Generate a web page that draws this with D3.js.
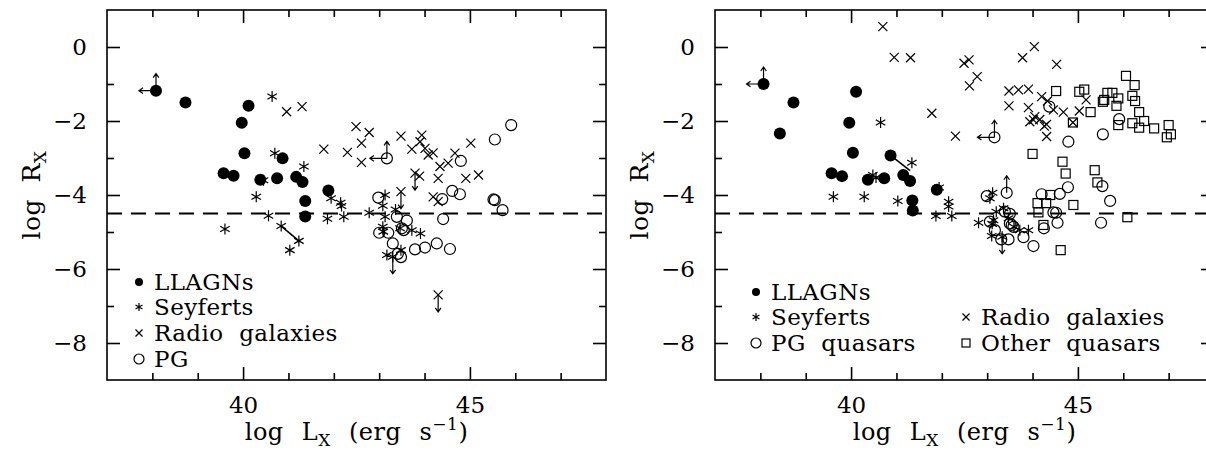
<!DOCTYPE html>
<html>
<head>
<meta charset="utf-8">
<script src="https://cdn.jsdelivr.net/npm/d3@7"></script>
<style>
	body { margin: 0; background: #fff; }
	svg { display: block; font-family: "DejaVu Serif", serif; }
</style>
</head>
<body>
<div id="chart"></div>
<script>

// data: [log Lx, log Rx]
const leftLLAGN = [[38.08,-1.18],[38.73,-1.50],[40.12,-1.59],[39.97,-2.05],[40.03,-2.87],[40.87,-3.01],[39.57,-3.41],[39.79,-3.48],[40.38,-3.59],[40.75,-3.55],[41.17,-3.51],[41.31,-3.65],[41.88,-3.88],[41.37,-4.16],[41.37,-4.58]];
const leftSeyferts = [[40.64,-1.34],[40.70,-2.87],[41.34,-3.23],[40.45,-3.60],[40.29,-4.05],[41.94,-4.09],[42.15,-4.21],[42.17,-4.30],[40.56,-4.56],[41.86,-4.64],[42.22,-4.59],[42.78,-4.48],[43.13,-4.00],[43.08,-4.29],[43.36,-4.39],[39.60,-4.92],[40.84,-4.84],[41.23,-5.24],[41.03,-5.49],[43.13,-4.59],[43.08,-4.86],[43.09,-4.99],[43.46,-4.90],[43.72,-4.95],[43.91,-5.04],[43.17,-5.62],[43.30,-5.67],[43.48,-5.49]];
const leftRadio = [[40.96,-1.75],[41.30,-1.61],[41.78,-2.76],[42.30,-2.85],[42.49,-2.15],[42.78,-2.31],[42.61,-2.60],[42.61,-3.12],[43.48,-2.41],[43.94,-2.38],[43.90,-2.56],[43.72,-2.76],[44.01,-2.74],[44.08,-2.92],[44.19,-2.86],[44.34,-3.23],[44.52,-3.14],[44.67,-2.87],[45.02,-2.60],[44.30,-3.55],[44.91,-3.55],[45.19,-3.46],[43.79,-3.41],[43.89,-3.49],[43.48,-3.91],[44.19,-4.05],[44.30,-4.18],[44.30,-6.70]];
const leftPG = [[43.17,-3.01],[45.91,-2.11],[45.55,-2.50],[44.80,-3.08],[44.61,-3.89],[44.78,-3.98],[44.39,-4.11],[45.52,-4.12],[45.55,-4.14],[45.72,-4.41],[42.98,-4.07],[43.39,-4.59],[43.61,-4.69],[44.41,-4.65],[43.00,-5.02],[43.20,-5.02],[43.50,-4.90],[43.54,-4.95],[43.30,-5.31],[43.41,-5.59],[43.48,-5.68],[43.79,-5.47],[44.01,-5.42],[44.27,-5.31],[44.56,-5.46]];
const leftLimits = [{p:[38.08,-1.18], dirs:["left","up"]},{p:[43.17,-3.01], dirs:["left","up"]},{p:[43.79,-3.41], dirs:["down"]},{p:[43.48,-3.91], dirs:["down"]},{p:[44.30,-6.70], dirs:["down"]},{p:[43.30,-5.67], dirs:["down"]}];
const leftLinks = [[[40.84,-4.84],[41.23,-5.24]]];

const rightLLAGN = [[38.07,-1.00],[38.73,-1.50],[38.43,-2.34],[40.11,-1.21],[39.96,-2.05],[40.04,-2.86],[39.57,-3.41],[39.80,-3.49],[40.37,-3.59],[40.73,-3.55],[40.87,-2.93],[41.15,-3.46],[41.30,-3.62],[41.89,-3.86],[41.35,-4.15],[41.36,-4.42]];
const rightSeyferts = [[40.65,-2.04],[41.34,-3.13],[40.48,-3.46],[40.55,-3.53],[39.61,-4.05],[40.29,-4.05],[41.03,-4.16],[42.15,-4.18],[42.15,-4.31],[41.87,-4.57],[42.22,-4.57],[41.94,-3.80],[43.12,-3.94],[43.06,-4.09],[42.81,-4.75],[43.10,-5.11],[43.14,-4.68],[43.36,-4.36],[43.20,-4.45],[43.11,-4.78],[43.47,-4.63],[43.59,-4.86],[43.72,-4.95],[43.91,-4.95],[43.33,-5.13]];
const rightRadio = [[40.70,0.55],[40.95,-0.28],[41.31,-0.29],[41.78,-1.79],[42.30,-2.41],[42.49,-0.44],[42.60,-0.35],[42.78,-0.80],[42.61,-1.05],[43.78,-0.29],[44.04,0.01],[44.53,-0.47],[43.48,-1.19],[43.69,-1.16],[43.91,-1.14],[44.20,-1.34],[44.33,-1.46],[43.48,-1.59],[43.91,-1.64],[44.05,-1.88],[43.94,-2.02],[44.02,-1.97],[44.16,-1.96],[44.31,-2.09],[44.26,-2.14],[44.31,-2.42],[44.46,-1.70],[44.68,-1.76],[45.03,-1.73],[45.18,-1.43],[44.89,-2.04]];
const rightPG = [[43.16,-2.44],[43.43,-3.94],[42.99,-4.03],[43.39,-4.45],[43.50,-4.51],[43.06,-4.72],[43.17,-4.95],[43.50,-4.77],[43.54,-4.81],[43.58,-4.86],[43.31,-5.20],[43.47,-5.20],[43.80,-5.14],[44.02,-5.38],[44.20,-3.98],[44.25,-4.90],[44.46,-4.47],[44.52,-4.48],[44.55,-4.75],[44.60,-3.97],[44.78,-3.79],[45.54,-3.76],[45.71,-4.16],[45.51,-4.75],[44.37,-1.61],[44.79,-2.56],[45.55,-2.36],[45.91,-1.95]];
const rightOther = [[44.00,-2.89],[44.66,-3.10],[44.73,-3.42],[45.37,-3.33],[45.43,-3.66],[44.90,-4.27],[44.39,-4.00],[44.11,-4.22],[44.30,-4.22],[44.13,-4.47],[44.24,-4.81],[44.62,-5.49],[46.09,-4.60],[44.52,-1.19],[45.03,-1.21],[45.14,-1.15],[45.28,-1.76],[44.89,-2.04],[45.65,-1.24],[45.76,-1.24],[45.58,-1.43],[45.55,-1.48],[45.89,-1.39],[45.85,-1.59],[46.06,-0.78],[46.25,-1.03],[46.20,-1.32],[46.26,-1.46],[46.35,-1.76],[46.46,-2.00],[46.20,-2.06],[45.89,-2.11],[46.35,-2.18],[46.68,-2.20],[47.00,-2.11],[47.05,-2.36],[46.96,-2.44]];
const rightLimits = [{p:[38.07,-1.00], dirs:["left","up"]},{p:[43.16,-2.44], dirs:["left","up"]},{p:[43.43,-3.94], dirs:["up"]},{p:[43.33,-5.13], dirs:["down"]}];
const rightLinks = [[[40.87,-2.93],[41.30,-3.34]]];

const xDomain = [37, 48];
const yDomain = [-9, 1];
const xMajor = [40, 45];
const xMinor = [38, 39, 41, 42, 43, 44, 46, 47];
const yMajor = [0, -2, -4, -6, -8];
const yMinor = [-1, -3, -5, -7];
const cutLevel = -4.5;

const width = 1206;
const height = 457;

let svg = d3.select("#chart")
	.append("svg")
	.attr("width", width)
	.attr("height", height);


// marker shapes
function symbol(g, type, x, y, s) {
	if (type == "filled") {
		g.append("circle").attr("cx", x).attr("cy", y).attr("r", s)
			.attr("fill", "#000");
	} else if (type == "open") {
		g.append("circle").attr("cx", x).attr("cy", y).attr("r", s)
			.attr("fill", "none").attr("stroke", "#000").attr("stroke-width", 1.2);
	} else if (type == "square") {
		g.append("rect").attr("x", x - s).attr("y", y - s)
			.attr("width", 2 * s).attr("height", 2 * s)
			.attr("fill", "none").attr("stroke", "#000").attr("stroke-width", 1.2);
	} else if (type == "cross") {
		g.append("path")
			.attr("d", `M${x-s},${y-s}L${x+s},${y+s}M${x-s},${y+s}L${x+s},${y-s}`)
			.attr("stroke", "#000").attr("stroke-width", 1.2);
	} else if (type == "star") {
		let c = s * Math.cos(Math.PI / 6), h = s * Math.sin(Math.PI / 6);
		g.append("path")
			.attr("d", `M${x},${y-s}L${x},${y+s}M${x-c},${y-h}L${x+c},${y+h}M${x-c},${y+h}L${x+c},${y-h}`)
			.attr("stroke", "#000").attr("stroke-width", 1.2);
	}
}

function arrow(g, x, y, dir) {
	let len = 17, hd = 4;
	let dx = 0, dy = 0;
	if (dir == "left") dx = -1;
	if (dir == "up") dy = -1;
	if (dir == "down") dy = 1;
	let tx = x + dx * len, ty = y + dy * len;
	// perpendicular for the head
	let px = -dy, py = dx;
	let d = `M${x},${y}L${tx},${ty}` +
		`M${tx - dx*hd + px*hd*0.7},${ty - dy*hd + py*hd*0.7}L${tx},${ty}` +
		`L${tx - dx*hd - px*hd*0.7},${ty - dy*hd - py*hd*0.7}`;
	g.append("path").attr("d", d).attr("fill", "none")
		.attr("stroke", "#000").attr("stroke-width", 1.2);
}


function drawPanel(left, sets, limits, links, legend) {
	const right = left + 499;
	let x = d3.scaleLinear().domain(xDomain).range([left, right]);
	let y = d3.scaleLinear().domain(yDomain).range([380, 10]);

	let g = svg.append("g");

	// frame
	g.append("rect")
		.attr("x", left).attr("y", 10)
		.attr("width", right - left).attr("height", 370)
		.attr("fill", "none").attr("stroke", "#000").attr("stroke-width", 1.6);

	// axes with inward ticks
	let axes = [
		[d3.axisBottom(x).tickValues(xMajor).tickSize(-13).tickPadding(17), `translate(0,380)`],
		[d3.axisBottom(x).tickValues(xMinor).tickSize(-7).tickFormat(""), `translate(0,380)`],
		[d3.axisTop(x).tickValues(xMajor).tickSize(-13).tickFormat(""), `translate(0,10)`],
		[d3.axisTop(x).tickValues(xMinor).tickSize(-7).tickFormat(""), `translate(0,10)`],
		[d3.axisLeft(y).tickValues(yMajor).tickSize(-13).tickPadding(20), `translate(${left},0)`],
		[d3.axisLeft(y).tickValues(yMinor).tickSize(-7).tickFormat(""), `translate(${left},0)`],
		[d3.axisRight(y).tickValues(yMajor).tickSize(-13).tickFormat(""), `translate(${right},0)`],
		[d3.axisRight(y).tickValues(yMinor).tickSize(-7).tickFormat(""), `translate(${right},0)`]
	];
	axes.forEach(a => {
		let ax = g.append("g").attr("transform", a[1]).call(a[0]);
		ax.attr("font-family", null);
		ax.select(".domain").remove();
		ax.selectAll("line").attr("stroke-width", 1.6);
		ax.selectAll("text")
			.attr("font-family", "DejaVu Serif")
			.attr("font-size", 23)
			.attr("fill", "#000");
	});

	// cut line
	g.append("line")
		.attr("x1", x(xDomain[0])).attr("x2", x(xDomain[1]))
		.attr("y1", y(cutLevel)).attr("y2", y(cutLevel))
		.attr("stroke", "#000").attr("stroke-width", 1.8)
		.attr("stroke-dasharray", "15,9");

	links.forEach(l => {
		g.append("line")
			.attr("x1", x(l[0][0])).attr("y1", y(l[0][1]))
			.attr("x2", x(l[1][0])).attr("y2", y(l[1][1]))
			.attr("stroke", "#000").attr("stroke-width", 1.6);
	});

	limits.forEach(l => {
		l.dirs.forEach(d => arrow(g, x(l.p[0]), y(l.p[1]), d));
	});

	sets.forEach(s => {
		s.data.forEach(d => symbol(g, s.type, x(d[0]), y(d[1]), s.size));
	});

	// legend
	legend.forEach(e => {
		symbol(g, e.type, e.sx, e.y, e.size);
		g.append("text")
			.attr("x", e.sx + 15)
			.attr("y", e.y + 8)
			.attr("font-size", 23)
			.attr("letter-spacing", 0.4)
			.attr("word-spacing", 8)
			.text(e.label);
	});

	// axis titles
	let xt = g.append("text")
		.attr("x", (left + right) / 2)
		.attr("y", 440)
		.attr("text-anchor", "middle")
		.attr("font-size", 24)
		.attr("letter-spacing", 0.5)
		.attr("word-spacing", 10);
	xt.append("tspan").text("log L");
	xt.append("tspan").attr("font-size", 17).attr("dy", 6).text("X");
	xt.append("tspan").attr("dy", -6).text(" (erg s");
	xt.append("tspan").attr("font-size", 17).attr("dy", -10).text("−1");
	xt.append("tspan").attr("dy", 10).text(")");

	let yt = g.append("text")
		.attr("transform", `translate(${left - 67},195) rotate(-90)`)
		.attr("text-anchor", "middle")
		.attr("font-size", 25)
		.attr("letter-spacing", 0.5)
		.attr("word-spacing", 8);
	yt.append("tspan").text("log R");
	yt.append("tspan").attr("font-size", 17).attr("dy", 6).text("X");
}


drawPanel(107,
	[
		{type: "star", data: leftSeyferts, size: 5.5},
		{type: "cross", data: leftRadio, size: 4.5},
		{type: "open", data: leftPG, size: 5.5},
		{type: "filled", data: leftLLAGN, size: 6}
	],
	leftLimits, leftLinks,
	[
		{type: "filled", label: "LLAGNs", sx: 139, y: 282, size: 4},
		{type: "star", label: "Seyferts", sx: 139, y: 307, size: 4},
		{type: "cross", label: "Radio galaxies", sx: 139, y: 333, size: 3.5},
		{type: "open", label: "PG", sx: 139, y: 359, size: 5}
	]);

drawPanel(715,
	[
		{type: "star", data: rightSeyferts, size: 5.5},
		{type: "cross", data: rightRadio, size: 4.5},
		{type: "open", data: rightPG, size: 5.5},
		{type: "square", data: rightOther, size: 4.5},
		{type: "filled", data: rightLLAGN, size: 6}
	],
	rightLimits, rightLinks,
	[
		{type: "filled", label: "LLAGNs", sx: 756, y: 292, size: 4},
		{type: "star", label: "Seyferts", sx: 756, y: 317, size: 4},
		{type: "open", label: "PG quasars", sx: 756, y: 343, size: 5},
		{type: "cross", label: "Radio galaxies", sx: 966, y: 317, size: 3.5},
		{type: "square", label: "Other quasars", sx: 966, y: 343, size: 4}
	]);

</script>
</body>
</html>
